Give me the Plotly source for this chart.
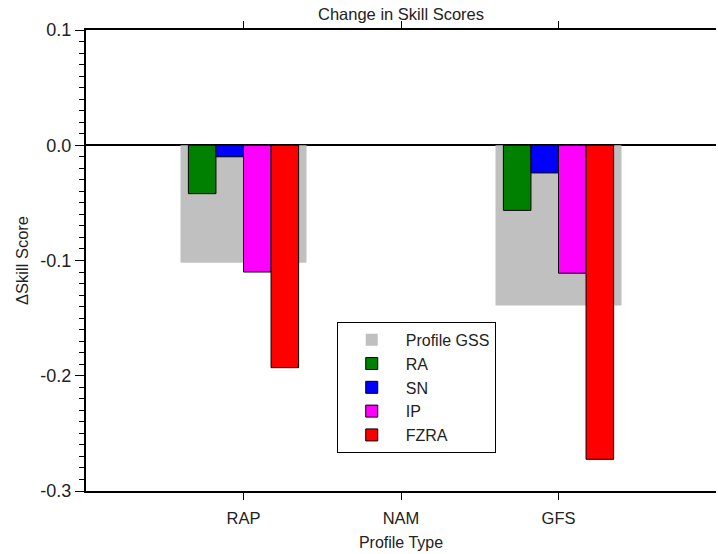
import plotly.graph_objects as go

categories = ["RAP", "NAM", "GFS"]
cat_pos = [1, 2, 3]
profile_gss = [-0.102, None, -0.139]
ra = [-0.042, None, -0.0565]
sn = [-0.010, None, -0.024]
ip = [-0.110, None, -0.111]
fzra = [-0.193, None, -0.2725]
y_ticks = [0.1, 0.0, -0.1, -0.2, -0.3]
y_ticklabels = ["0.1", "0.0", "-0.1", "-0.2", "-0.3"]

fig = go.Figure()
fig.add_trace(go.Bar(x=cat_pos, y=profile_gss, name="Profile GSS", width=0.8, offset=-0.4,
                     marker=dict(color="#c0c0c0", line=dict(width=0))))
series = [("RA", ra, "#008000"), ("SN", sn, "#0000ff"), ("IP", ip, "#ff00ff"), ("FZRA", fzra, "#ff0000")]
w = 0.175
for i, (name, vals, col) in enumerate(series):
    fig.add_trace(go.Bar(x=cat_pos, y=vals, name=name, width=w, offset=-0.35 + i * w,
                         marker=dict(color=col, line=dict(color="black", width=1))))

fig.update_layout(
    width=718, height=554,
    barmode="overlay",
    margin=dict(l=86, r=2, t=30, b=63),
    plot_bgcolor="white", paper_bgcolor="white",
    font=dict(family="Arial, Liberation Sans, sans-serif", size=15, color="#222"),
    title=dict(text="Change in Skill Scores", x=(86 + 315) / 718, xanchor="center",
               y=1 - 14 / 554, yanchor="middle", font=dict(size=16.5, color="#222")),
    showlegend=True,
    legend=dict(x=0.398, y=0.367, xanchor="left", yanchor="top",
                bordercolor="black", borderwidth=1, bgcolor="white",
                itemwidth=58, font=dict(size=16, color="#222"), tracegroupgap=0),
    xaxis=dict(range=[0, 4], tickvals=cat_pos, ticktext=categories,
               showline=True, linecolor="black", linewidth=2, mirror="ticks",
               ticks="outside", ticklen=7, tickcolor="black", tickwidth=1,
               showgrid=False, zeroline=False,
               tickfont=dict(family="Liberation Sans Narrow, Arial Narrow, Arial", size=16.5),
               ticklabelstandoff=4,
               title=dict(text="Profile Type", standoff=11,
                          font=dict(family="Liberation Sans Narrow, Arial Narrow, Arial", size=16))),
    yaxis=dict(range=[-0.3, 0.1], tickvals=y_ticks, ticktext=y_ticklabels,
               showline=True, linecolor="black", linewidth=2, mirror=False,
               ticks="outside", ticklen=9, tickcolor="black", tickwidth=1,
               minor=dict(dtick=0.01, ticks="outside", ticklen=5, tickcolor="black", showgrid=False),
               showgrid=False, zeroline=True, zerolinecolor="black", zerolinewidth=2,
               tickfont=dict(size=18),
               title=dict(text="ΔSkill Score", standoff=8, font=dict(size=16.5))),
)

fig.write_html("out.html")
